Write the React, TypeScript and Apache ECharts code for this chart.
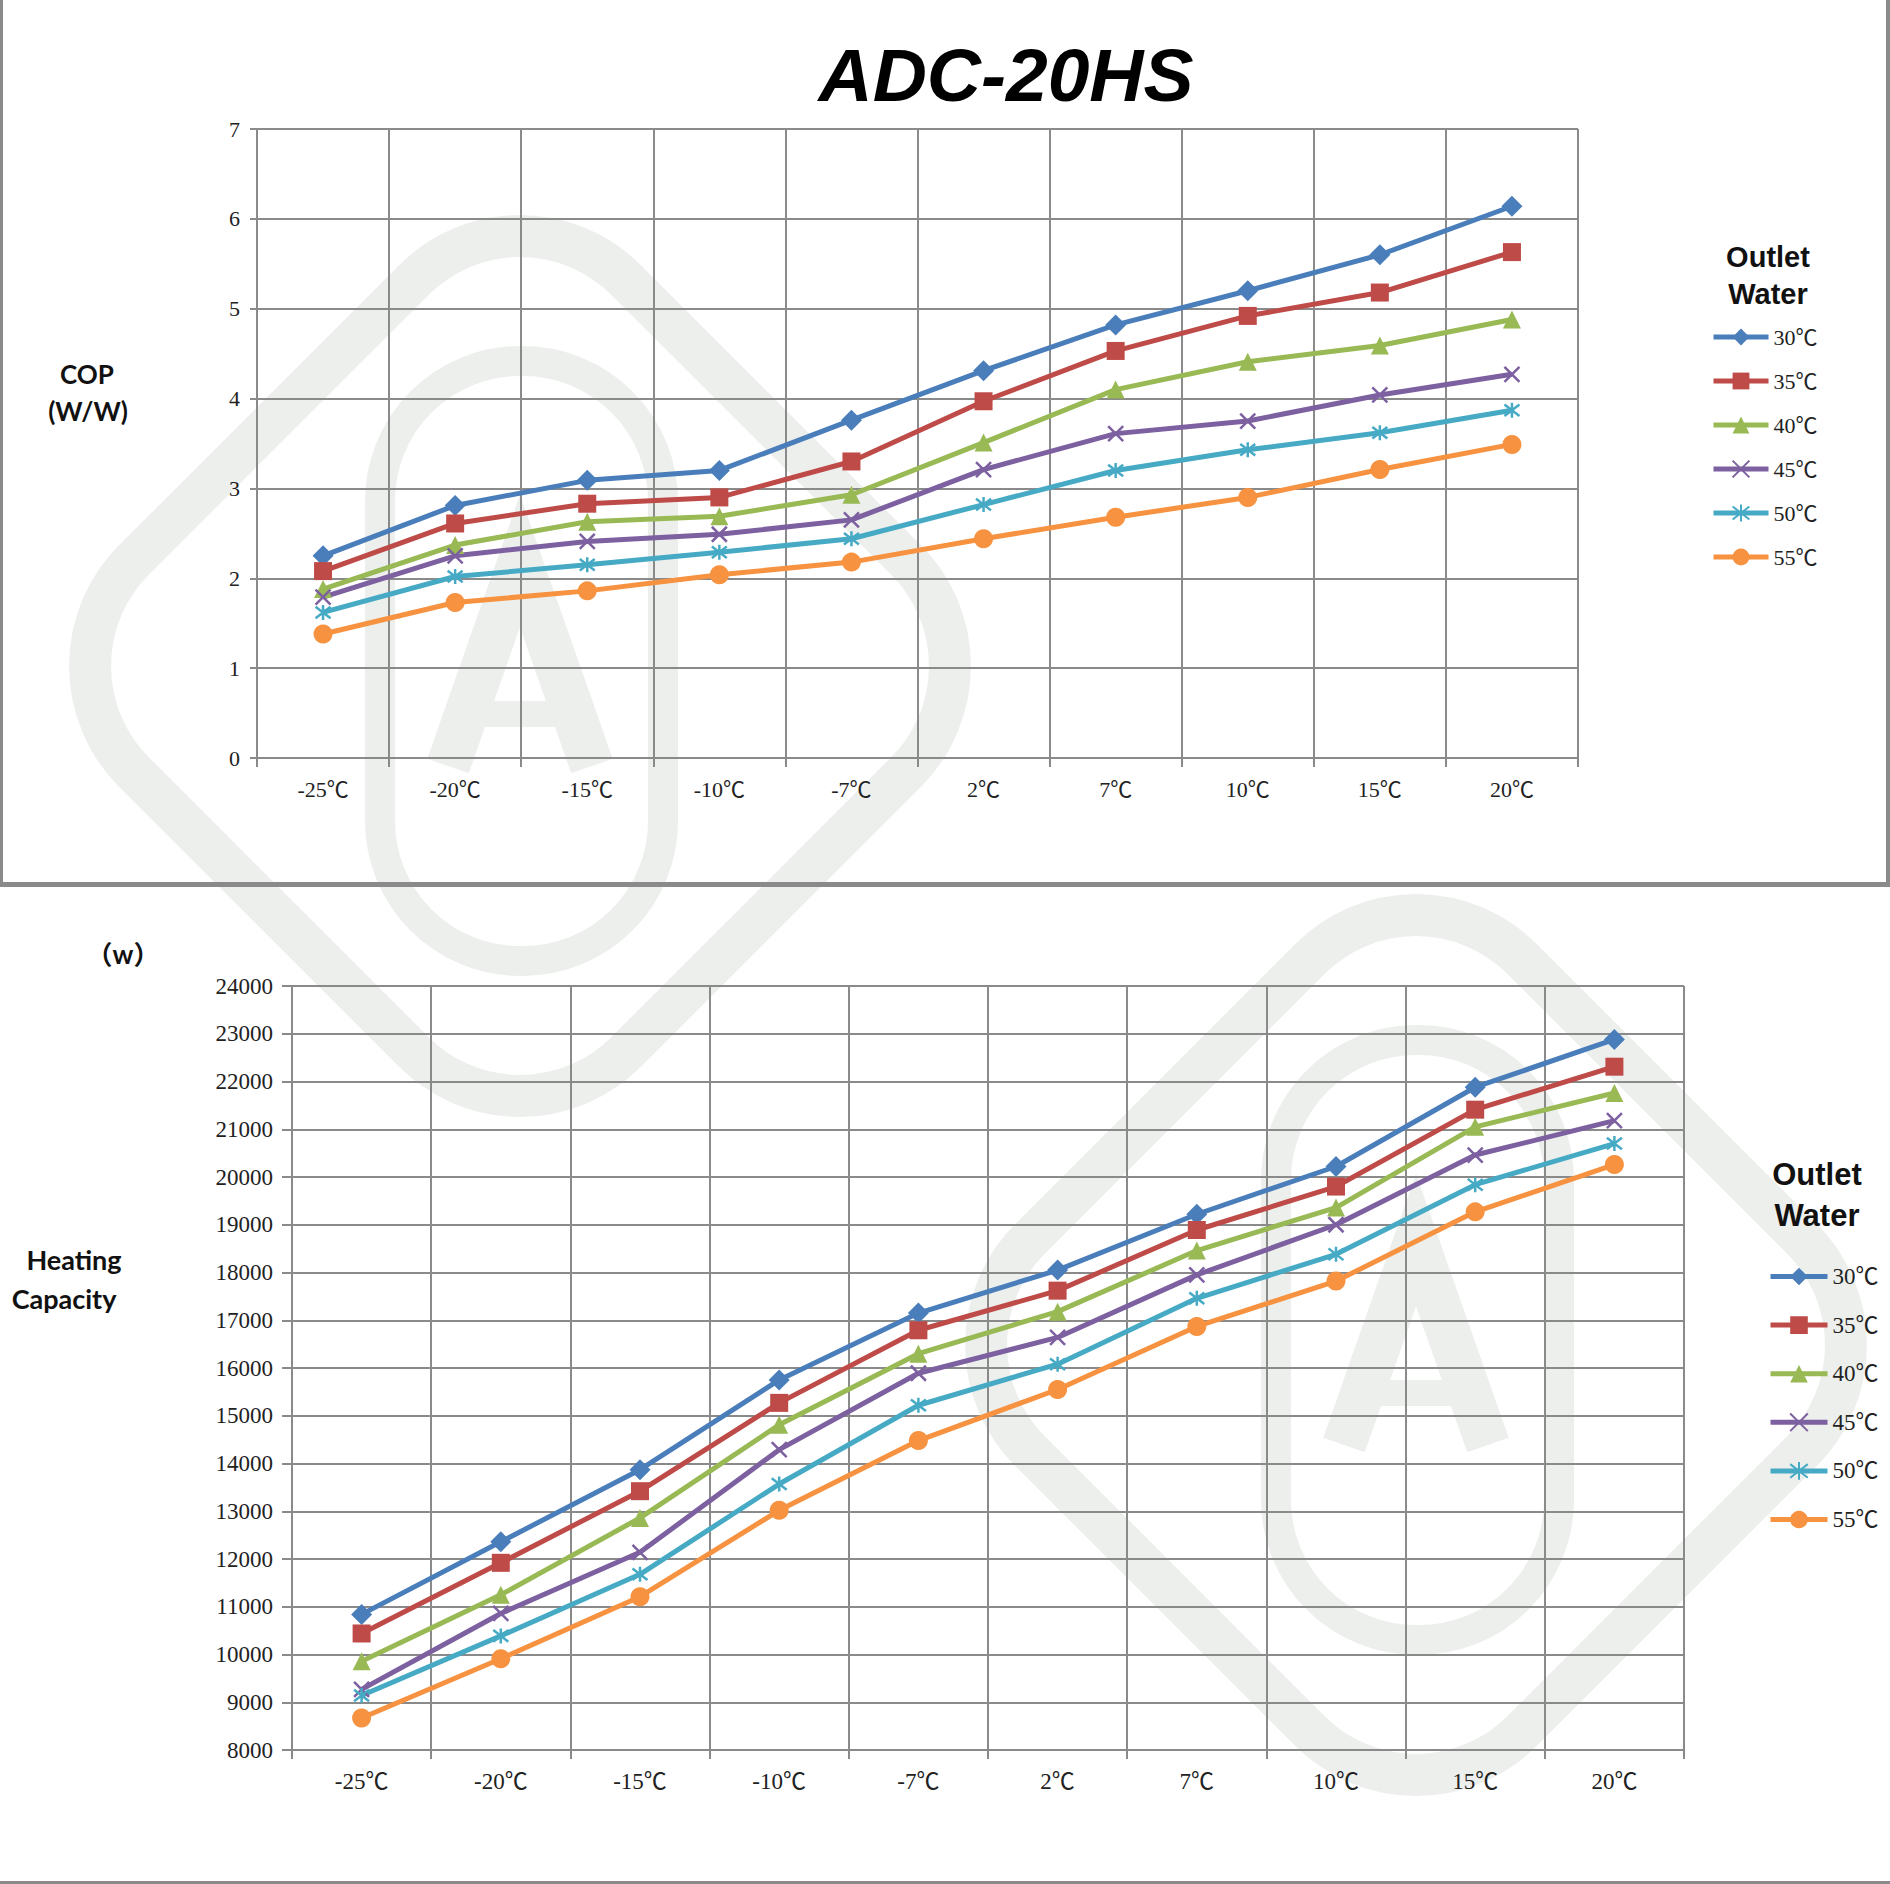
import React, { useEffect, useRef } from "react";
import * as echarts from "echarts";

const categories = ["-25℃", "-20℃", "-15℃", "-10℃", "-7℃", "2℃", "7℃", "10℃", "15℃", "20℃"];
const seriesNames = ["30℃", "35℃", "40℃", "45℃", "50℃", "55℃"];

const cop30 = [2.25, 2.81, 3.09, 3.2, 3.76, 4.31, 4.82, 5.2, 5.6, 6.14];
const cop35 = [2.08, 2.61, 2.83, 2.9, 3.3, 3.97, 4.53, 4.92, 5.18, 5.63];
const cop40 = [1.88, 2.37, 2.63, 2.69, 2.93, 3.51, 4.1, 4.41, 4.59, 4.88];
const cop45 = [1.79, 2.25, 2.41, 2.49, 2.65, 3.21, 3.61, 3.75, 4.04, 4.27];
const cop50 = [1.62, 2.02, 2.15, 2.29, 2.44, 2.82, 3.2, 3.43, 3.62, 3.87];
const cop55 = [1.38, 1.73, 1.86, 2.04, 2.18, 2.44, 2.68, 2.9, 3.21, 3.49];

const cap30 = [10840, 12360, 13870, 15750, 17150, 18050, 19220, 20220, 21880, 22880];
const cap35 = [10440, 11920, 13420, 15270, 16790, 17620, 18890, 19800, 21410, 22310];
const cap40 = [9860, 11250, 12860, 14810, 16300, 17180, 18460, 19360, 21050, 21760];
const cap45 = [9270, 10860, 12140, 14290, 15890, 16640, 17950, 19000, 20460, 21180];
const cap50 = [9140, 10390, 11680, 13570, 15220, 16080, 17460, 18380, 19840, 20700];
const cap55 = [8670, 9910, 11210, 13020, 14480, 15550, 16870, 17820, 19270, 20260];

const copSeries = [cop30, cop35, cop40, cop45, cop50, cop55];
const capSeries = [cap30, cap35, cap40, cap45, cap50, cap55];

const colors = ["#4A7EBB", "#BE4B48", "#98B954", "#7D60A0", "#46AAC5", "#F69240"];
const X_PATH = "path://M0,0L10,10M10,0L0,10";
const STAR_PATH = "path://M0,0L10,10M10,0L0,10M5,-1.5L5,11.5";
const symbols = ["diamond", "rect", "triangle", X_PATH, STAR_PATH, "circle"];
const symbolSizes = [21, 18, 18, 15, 15, 19];
const strokeSymbol = [false, false, false, true, true, false];

const SERIF = "'Liberation Serif', 'Noto Sans CJK SC', serif";
const SANS = "'Liberation Sans', 'Noto Sans CJK SC', sans-serif";
const LATO = "Lato, 'Noto Sans CJK SC', sans-serif";
const GRID_COLOR = "#8a8a8a";
const WM = "#edefed";

function makeSeries(values: number[][], axisIndex: number) {
  return values.map((vals, i) => ({
    name: seriesNames[i],
    type: "line",
    xAxisIndex: axisIndex,
    yAxisIndex: axisIndex,
    data: vals,
    symbol: symbols[i],
    symbolSize: symbolSizes[i],
    lineStyle: { color: colors[i], width: 5 },
    itemStyle: strokeSymbol[i]
      ? { color: colors[i], borderColor: colors[i], borderWidth: 2.5 }
      : { color: colors[i], borderWidth: 0 },
    z: 3,
  }));
}

function xAxis(gridIndex: number, fontSize: number) {
  return {
    type: "category",
    gridIndex,
    data: categories,
    boundaryGap: true,
    axisLine: { show: true, lineStyle: { color: GRID_COLOR, width: 2 } },
    axisTick: { show: true, length: 9, lineStyle: { color: GRID_COLOR, width: 2 } },
    splitLine: { show: true, lineStyle: { color: GRID_COLOR, width: 2 } },
    axisLabel: { fontFamily: SERIF, fontSize, color: "#222", margin: 20 },
  };
}

function yAxis(gridIndex: number, min: number, max: number, interval: number, fontSize: number, margin: number, tick: number) {
  return {
    type: "value",
    gridIndex,
    min,
    max,
    interval,
    axisLine: { show: true, lineStyle: { color: GRID_COLOR, width: 2 } },
    axisTick: { show: true, length: tick, lineStyle: { color: GRID_COLOR, width: 2 } },
    splitLine: { show: true, lineStyle: { color: GRID_COLOR, width: 2 } },
    axisLabel: { fontFamily: SERIF, fontSize, color: "#222", margin, formatter: (v: number) => String(v) },
  };
}

function txt(text: string, x: number, y: number, font: string, extra: any = {}) {
  return {
    type: "text",
    x,
    y,
    z: 20,
    style: {
      text,
      font,
      fill: "#111",
      align: "center",
      verticalAlign: "middle",
      textAlign: "center",
      textVerticalAlign: "middle",
      ...extra,
    },
  };
}

function watermark(cx: number, cy: number) {
  const base = { x: cx, y: cy, z: -10, silent: true };
  return [
    {
      ...base,
      type: "rect",
      rotation: Math.PI / 4,
      shape: { x: -348, y: -348, width: 696, height: 696, r: 150 },
      style: { fill: "none", stroke: WM, lineWidth: 42 },
    },
    {
      ...base,
      type: "rect",
      shape: { x: -140, y: -305, width: 283, height: 600, r: 140 },
      style: { fill: "none", stroke: WM, lineWidth: 30 },
    },
    {
      ...base,
      type: "polyline",
      shape: { points: [[-72, 100], [0, -105], [72, 100]] },
      style: { fill: "none", stroke: WM, lineWidth: 44 },
    },
    {
      ...base,
      type: "line",
      shape: { x1: -42, y1: 48, x2: 42, y2: 48 },
      style: { stroke: WM, lineWidth: 26 },
    },
  ];
}

function line(x1: number, y1: number, x2: number, y2: number, w: number) {
  return { type: "line", z: 15, silent: true, shape: { x1, y1, x2, y2 }, style: { stroke: "#8a8a8a", lineWidth: w } };
}

export default function App() {
  const ref = useRef<HTMLDivElement>(null);
  useEffect(() => {
    document.body.style.margin = "0";
    const chart = echarts.init(ref.current!, null, { renderer: "svg" });
    chart.setOption({
      animation: false,
      backgroundColor: "#ffffff",
      grid: [
        { left: 257, top: 129, width: 1321, height: 629 },
        { left: 292, top: 986, width: 1392, height: 764 },
      ],
      xAxis: [xAxis(0, 22), xAxis(1, 23)],
      yAxis: [yAxis(0, 0, 7, 1, 22, 17, 7), yAxis(1, 8000, 24000, 1000, 23, 19, 10)],
      legend: [
        {
          orient: "vertical",
          left: 1711,
          top: 326,
          padding: 0,
          itemWidth: 55,
          itemHeight: 21,
          itemGap: 22,
          selectedMode: false,
          data: seriesNames,
          lineStyle: { width: 5 },
          textStyle: { fontFamily: SERIF, fontSize: 22, color: "#222" },
        },
        {
          orient: "vertical",
          left: 1768,
          top: 1265,
          padding: 0,
          itemWidth: 57,
          itemHeight: 22,
          itemGap: 25.6,
          selectedMode: false,
          data: seriesNames,
          lineStyle: { width: 5 },
          textStyle: { fontFamily: SERIF, fontSize: 23, color: "#222" },
        },
      ],
      graphic: {
        elements: [
          ...watermark(520, 666),
          ...watermark(1416, 1345),
          line(1.5, 0, 1.5, 886, 3),
          line(1888, 0, 1888, 886, 4),
          line(0, 884.5, 1890, 884.5, 5),
          line(0, 1882.5, 1890, 1882.5, 3),
          txt("ADC-20HS", 1006, 75, `italic bold 75px ${SANS}`, { fill: "#000" }),
          txt("COP", 87, 374, `bold 26px ${LATO}`),
          txt("(W/W)", 88, 411, `bold 26px ${LATO}`),
          txt("（w）", 123, 954, `bold 26px ${LATO}`),
          txt("Heating", 74, 1259, `bold 27px ${LATO}`),
          txt("Capacity", 64, 1298, `bold 27px ${LATO}`),
          txt("Outlet", 1768, 257, `bold 29px ${SANS}`),
          txt("Water", 1768, 294, `bold 29px ${SANS}`),
          txt("Outlet", 1817, 1174, `bold 31px ${SANS}`),
          txt("Water", 1817, 1215, `bold 31px ${SANS}`),
        ],
      },
      series: [...makeSeries(copSeries, 0), ...makeSeries(capSeries, 1)],
    });
    return () => chart.dispose();
  }, []);
  return <div ref={ref} style={{ width: 1890, height: 1884 }} />;
}
